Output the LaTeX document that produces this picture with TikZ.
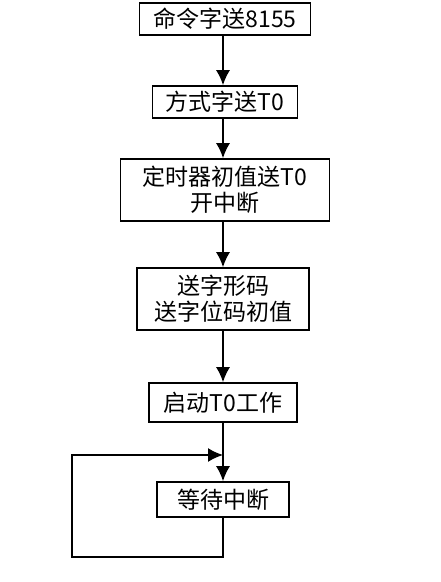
\documentclass[tikz,border=0pt]{standalone}
\usepackage{fontspec}
\newfontfamily\cjk{Noto Sans CJK SC}
\usetikzlibrary{arrows.meta}

\begin{document}
\begin{tikzpicture}[x=1pt, y=-1pt,
  line/.style={>={Latex[length=15pt,width=14pt]}, line width=1.6pt},
  box/.style={draw, line width=1.6pt, inner sep=0pt, align=center,
    font=\cjk\fontsize{23}{26}\selectfont}]
\useasboundingbox (0,0) rectangle (440,582);

\node[box, minimum width=171pt, minimum height=32pt] (cmd)   at (225,19)    {命令字送8155};
\node[box, minimum width=145pt, minimum height=32pt] (mode)  at (225,102)   {方式字送T0};
\node[box, minimum width=209pt, minimum height=62pt] (timer) at (225,190)   {定时器初值送T0\\开中断};
\node[box, minimum width=172pt, minimum height=62pt] (code)  at (223,299)   {送字形码\\送字位码初值};
\node[box, minimum width=148pt, minimum height=39pt] (start) at (223,402.5) {启动T0工作};
\node[box, minimum width=132pt, minimum height=35pt] (wait)  at (223,499.5) {等待中断};

\coordinate (j) at (223,455);

\draw[->, line] (cmd.south -| 223,0) -- (mode.north -| 223,0);
\draw[->, line] (mode.south -| 223,0) -- (timer.north -| 223,0);
\draw[->, line] (timer.south -| 223,0) -- (code.north);
\draw[->, line] (code.south) -- (start.north);
\draw[->, line] (start.south) -- (wait.north);
% loop back
\draw[->, line] (wait.south) -- ++(0,39) -| (72,455) -- (j);

\end{tikzpicture}
\end{document}
